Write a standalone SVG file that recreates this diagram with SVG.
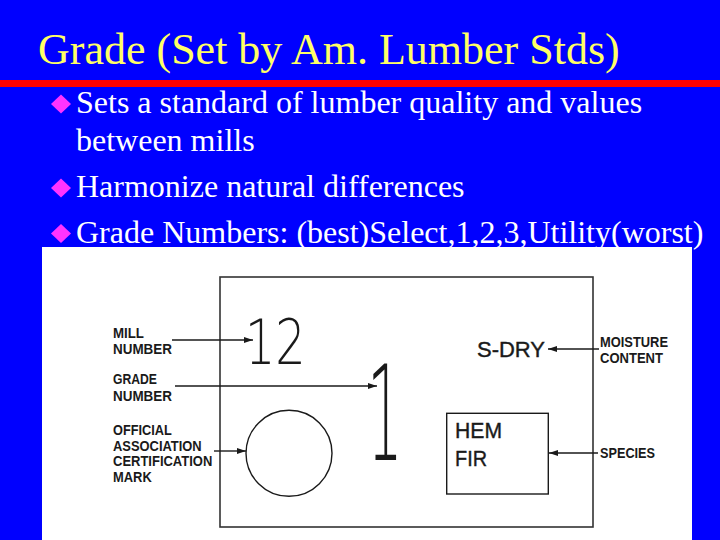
<svg xmlns="http://www.w3.org/2000/svg" xmlns:xlink="http://www.w3.org/1999/xlink" width="720" height="540" viewBox="0 0 720 540">
<style>
.title{font-family:"Liberation Serif","Times New Roman",serif;font-size:44px;fill:#FFFF66}
.body{font-family:"Liberation Serif","Times New Roman",serif;font-size:32px;fill:#FFFFFF}
.lbl{font-family:"Liberation Sans",Arial,sans-serif;font-size:15px;font-weight:bold;fill:#1a1a1a}
.mid{font-family:"Liberation Sans",Arial,sans-serif;font-size:22px;fill:#1a1a1a;stroke:#1a1a1a;stroke-width:0.4}
.thin{font-family:"DejaVu Sans","Lato",sans-serif;font-weight:200;fill:#1a1a1a}
.ln{stroke:#1a1a1a;stroke-width:1.4;fill:none}
.frame{stroke:#333;stroke-width:1.6;fill:none}
</style>
<defs>
<polygon id="dia" points="0,-9.5 10,0 0,9.5 -10,0" fill="#FF33FF"/>
<marker id="ah" markerUnits="userSpaceOnUse" markerWidth="9" markerHeight="6" refX="9" refY="3" orient="auto">
<path d="M0,0 L9,3 L0,6 z" fill="#1a1a1a"/>
</marker>
</defs>
<rect x="0" y="0" width="720" height="540" fill="#0000FF"/>
<g id="title">
<text class="title" x="38" y="64">Grade (Set by Am. Lumber Stds)</text>
<rect x="0" y="80" width="720" height="7" fill="#FF0000"/>
</g>
<g id="bullets">
<use xlink:href="#dia" x="61" y="104"/>
<text class="body" x="76" y="113">Sets a standard of lumber quality and values</text>
<text class="body" x="76" y="151">between mills</text>
<use xlink:href="#dia" x="61" y="188"/>
<text class="body" x="76" y="197">Harmonize natural differences</text>
<use xlink:href="#dia" x="61" y="233.5"/>
<text class="body" x="76" y="242.5">Grade Numbers: (best)Select,1,2,3,Utility(worst)</text>
</g>
<rect x="42" y="247" width="650" height="293" fill="#FFFFFF"/>
<g id="stamp">
<rect class="frame" x="220" y="277" width="373" height="250"/>
</g>
<g id="mill-number">
<text class="thin" font-size="62" transform="translate(245,364) scale(0.77,1)">12</text>
</g>
<g id="grade-number">
<text class="thin" font-size="132" text-anchor="middle" transform="translate(385,460) scale(0.42,1)">1</text>
</g>
<g id="cert-mark">
<circle class="ln" cx="289" cy="453.3" r="43"/>
</g>
<g id="moisture">
<text class="mid" x="477" y="357" textLength="68" lengthAdjust="spacingAndGlyphs">S-DRY</text>
</g>
<g id="species">
<rect class="ln" x="446.7" y="413.3" width="101.6" height="80.7" stroke-width="1.8"/>
<text class="mid" font-size="23" x="455" y="438.3" textLength="47" lengthAdjust="spacingAndGlyphs">HEM</text>
<text class="mid" font-size="23" x="455" y="466" textLength="32" lengthAdjust="spacingAndGlyphs">FIR</text>
</g>
<g id="label-mill">
<text class="lbl" x="113" y="337.7" textLength="31" lengthAdjust="spacingAndGlyphs">MILL</text>
<text class="lbl" x="113" y="354.3" textLength="59" lengthAdjust="spacingAndGlyphs">NUMBER</text>
</g>
<g id="label-grade">
<text class="lbl" x="113" y="384.3" textLength="44" lengthAdjust="spacingAndGlyphs">GRADE</text>
<text class="lbl" x="113" y="400.7" textLength="59" lengthAdjust="spacingAndGlyphs">NUMBER</text>
</g>
<g id="label-official">
<text class="lbl" x="113" y="435" textLength="58.7" lengthAdjust="spacingAndGlyphs">OFFICIAL</text>
<text class="lbl" x="113" y="450.7" textLength="88.7" lengthAdjust="spacingAndGlyphs">ASSOCIATION</text>
<text class="lbl" x="113" y="466" textLength="99.3" lengthAdjust="spacingAndGlyphs">CERTIFICATION</text>
<text class="lbl" x="113" y="481.7" textLength="38.7" lengthAdjust="spacingAndGlyphs">MARK</text>
</g>
<g id="label-moisture">
<text class="lbl" x="600" y="347.3" textLength="68" lengthAdjust="spacingAndGlyphs">MOISTURE</text>
<text class="lbl" x="600" y="363.3" textLength="63" lengthAdjust="spacingAndGlyphs">CONTENT</text>
</g>
<g id="label-species">
<text class="lbl" x="600" y="457.7" textLength="55" lengthAdjust="spacingAndGlyphs">SPECIES</text>
</g>
<g id="connectors">
<path class="ln" d="M172,340 L253,340" marker-end="url(#ah)"/>
<path class="ln" d="M175,386 L377,386" marker-end="url(#ah)"/>
<path class="ln" d="M214,451 L246,451" marker-end="url(#ah)"/>
<path class="ln" d="M599,349 L548,349" marker-end="url(#ah)"/>
<path class="ln" d="M598,453 L549,453" marker-end="url(#ah)"/>
</g>
</svg>
